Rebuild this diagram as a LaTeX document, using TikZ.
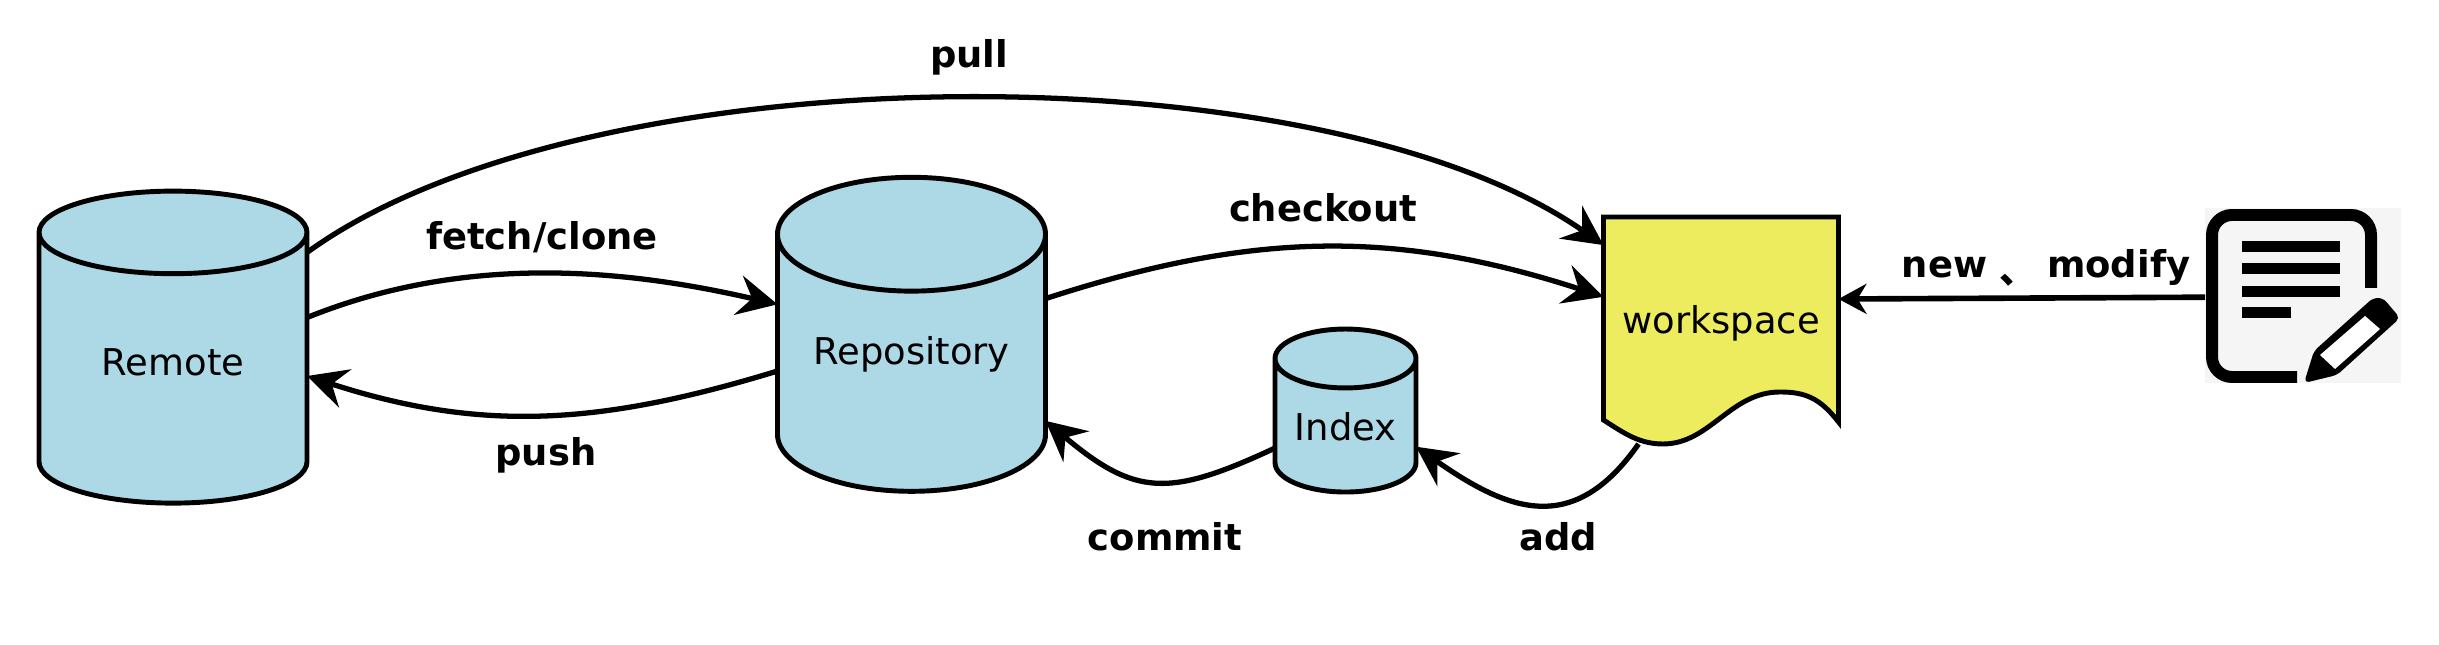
\documentclass[tikz,border=0pt]{standalone}
\usepackage{fontspec}
\setmainfont{DejaVu Sans}
\newfontfamily\cjkfont{Noto Sans CJK SC}
\usepackage{xcolor}
\usetikzlibrary{shapes.geometric,arrows.meta,positioning}
\definecolor{storeblue}{HTML}{ADD8E6}
\definecolor{workyellow}{HTML}{ECEC5E}
\definecolor{iconbg}{HTML}{F5F5F5}
\tikzset{
    store/.style={draw, cylinder, shape border rotate=90, aspect=0.58, fill=storeblue, line width=1.4pt, outer sep=0pt, inner sep=0pt, font=\fontsize{10.5pt}{12pt}\selectfont},
    flow/.style={draw, line width=1.5pt, -{Stealth[length=0.4cm,width=0.4cm,inset=0.14cm]}},
    cmd/.style={font=\fontsize{10.5pt}{12pt}\selectfont\bfseries},
    iconline/.style={draw=none, fill=black}
}

\begin{document}
\begin{tikzpicture}
    \useasboundingbox (0,0) rectangle (24.39,-6.45);

    \node[store, minimum width=2.68cm, minimum height=3.12cm, text depth=0.14cm] (remote) at (1.73,-3.69) {Remote};
    \node[store, minimum width=2.68cm, minimum height=3.14cm, text depth=0.28cm] (repo) at (9.115,-3.64) {Repository};
    \node[store, minimum width=1.41cm, minimum height=1.63cm] (index) at (13.455,-4.265) {Index};

    \node[minimum width=2.35cm, minimum height=2.27cm, outer sep=0pt, inner sep=0pt] (workspace) at (17.21,-3.305) {};
    \draw[line width=1.4pt, fill=workyellow] (workspace.north west) -- (workspace.north east) -- (18.385,-4.22)
        .. controls (18.2,-3.98) and (18.05,-3.92) .. (17.8,-3.92)
        .. controls (17.3,-3.92) and (17.1,-4.44) .. (16.63,-4.44)
        .. controls (16.4,-4.44) and (16.25,-4.34) .. (16.035,-4.2) -- cycle;
    \node[font=\fontsize{10.5pt}{12pt}\selectfont] (worklabel) at (17.21,-3.23) {workspace};

    \node[draw=none, fill=iconbg, minimum width=1.96cm, minimum height=1.75cm, outer sep=0pt, inner sep=0pt] (notes) at (23.03,-2.955) {};
    \draw[line width=3.4pt] (23.71,-2.88) -- (23.71,-2.35) arc (0:90:0.2) -- (22.32,-2.15) arc (90:180:0.2) -- (22.12,-3.57) arc (180:270:0.2) -- (22.97,-3.77);
    \foreach \ytop/\xend in {2.41/23.4, 2.63/23.4, 2.86/23.4, 3.07/22.91}
        \fill[iconline] (22.42,-\ytop) rectangle (\xend,-\ytop-0.11);
    \fill[iconline, rounded corners=0.05cm] (23.04,-3.83) -- (23.14,-3.51) -- (23.73,-2.98) -- (23.83,-2.98) -- (24.0,-3.18) -- (23.37,-3.75) -- cycle;
    \fill[white] (23.2,-3.55) -- (23.65,-3.16) -- (23.8,-3.29) -- (23.35,-3.69) -- cycle;

    \draw[flow] (remote.41) to[out=36, in=145, looseness=0.68] (workspace.144.8);
    \draw[flow] (remote.21.6) to[out=22, in=167, looseness=0.9] (repo.156.5);
    \draw[flow] (repo.183.6) to[out=197, in=-18] (remote.-3.4);
    \draw[flow] (repo.26) to[out=18, in=162] (workspace.164.7);
    \draw[flow] (index.197) to[out=205, in=-40, looseness=1.3] (repo.-23.2);
    \draw[flow] (workspace.234.3) to[out=235, in=-35, looseness=1.3] (index.-16.2);
    \draw[flow, line width=1.6pt, -{Stealth[length=0.28cm,width=0.3cm,inset=0.09cm]}] (notes.181) -- (workspace.15.8);

    \node[cmd] (pull) at (9.69,-0.57) {pull};
    \node[cmd] (fetch) at (5.42,-2.37) {fetch/clone};
    \node[cmd] (push) at (5.46,-4.55) {push};
    \node[cmd] (checkout) at (13.23,-2.08) {checkout};
    \node[cmd] (commit) at (11.65,-5.37) {commit};
    \node[cmd] (add) at (15.58,-5.37) {add};
    \node[cmd] (newmod) at (20.46,-2.68) {new\hspace{0.12cm}\raisebox{-0.06cm}{\cjkfont\bfseries 、}\hspace{0.11cm}modify};
\end{tikzpicture}
\end{document}
